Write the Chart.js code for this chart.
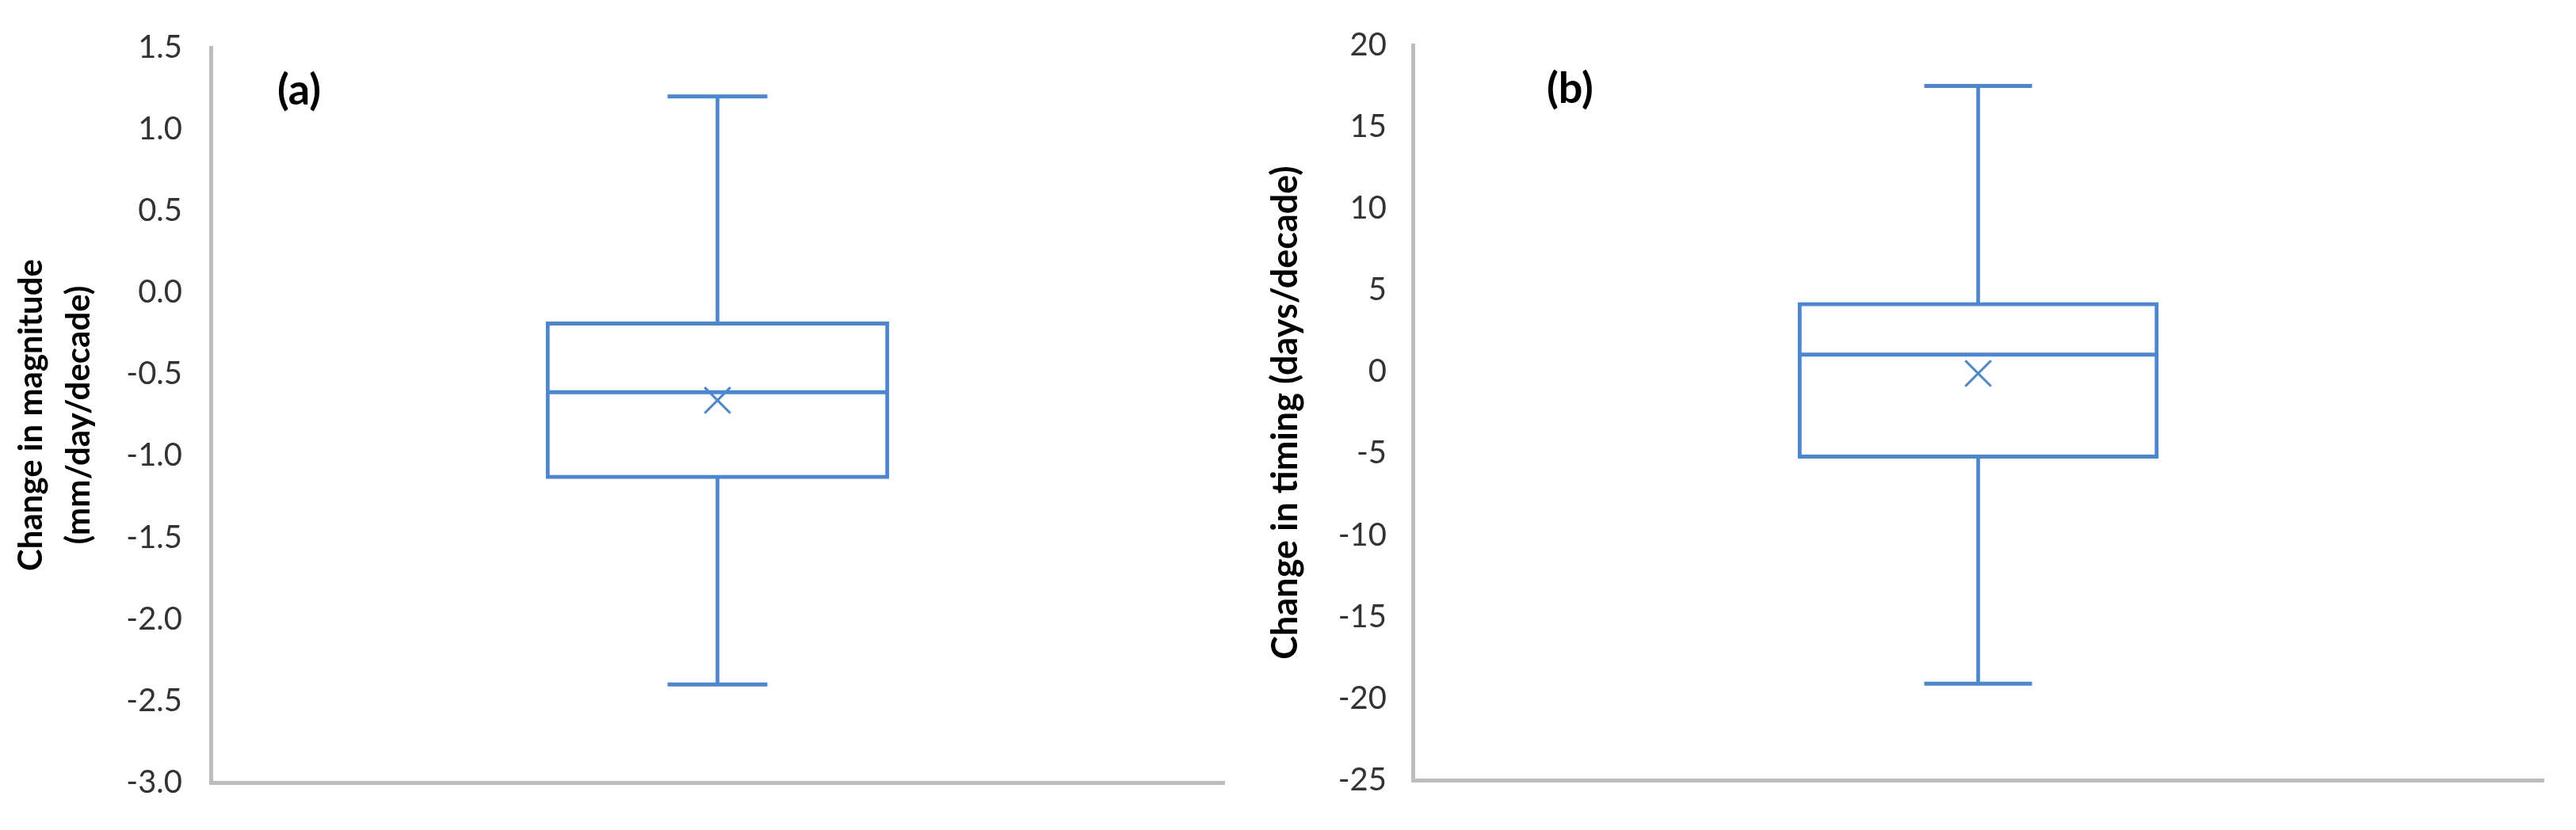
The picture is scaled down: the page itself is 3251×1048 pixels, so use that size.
<!DOCTYPE html>
<html>
<head>
<meta charset="utf-8">
<script src="https://cdn.jsdelivr.net/npm/chart.js@4.4.1/dist/chart.umd.min.js"></script>
<style>
  body { margin: 0; background: #fff; width: 3251px; height: 1048px; position: relative; overflow: hidden; }
  .panel { position: absolute; top: 0; height: 1048px; }
  .tag { position: absolute; font: bold 54px Lato, sans-serif; line-height: 54px; color: #000; }
</style>
</head>
<body>
<div class="panel" style="left:0;width:1600px"><canvas id="chartA"></canvas></div>
<div class="panel" style="left:1580px;width:1671px"><canvas id="chartB"></canvas></div>
<div class="tag" style="left:350px;top:85px">(a)</div>
<div class="tag" style="left:1952px;top:83px">(b)</div>
<script>
// une seule catégorie, sans étiquette sur l'axe x
const categories = [''];

// (a) changement de magnitude : min, Q1, médiane, Q3, max
const magnitudeBox = [-2.4, -1.14, -0.61, -0.18, 1.2];
const magnitudeMean = [-0.66];
const magnitudeAxis = [-3, 1.5, 0.5]; // min, max, pas

// (b) changement de timing : min, Q1, médiane, Q3, max
const timingBox = [-19.1, -5.3, 1.05, 4.25, 17.5];
const timingMean = [-0.1];
const timingAxis = [-25, 20, 5];

const blue = '#4a86d6';
const axisGray = '#bdbdbd';

Chart.defaults.font.family = 'Lato';

// jeu de points (extrémités, médiane, moyenne)
function pointSet(values, style, radius, width) {
    return {
        type: 'line',
        data: values,
        showLine: false,
        pointStyle: style,
        pointRadius: radius,
        pointBorderWidth: width,
        pointBorderColor: blue,
        pointBackgroundColor: blue,
        pointRotation: 0,
        order: 1
    };
}

// fonction pour dessiner une boîte à moustaches
function boxChart(id, box, mean, axis, cfg) {
    const ctx = document.getElementById(id).getContext('2d');
    return new Chart(ctx, {
        type: 'bar',
        data: {
            labels: categories,
            datasets: [
                {   // boîte Q1 - Q3
                    data: [[box[1], box[3]]],
                    backgroundColor: '#ffffff',
                    borderColor: blue,
                    borderWidth: 5,
                    borderSkipped: false,
                    barThickness: cfg.boxWidth,
                    grouped: false,
                    order: 2
                },
                {   // moustache min - max
                    data: [[box[0], box[4]]],
                    backgroundColor: blue,
                    borderWidth: 0,
                    barThickness: 4,
                    grouped: false,
                    order: 3
                },
                pointSet([box[0]], 'line', cfg.capRadius, 5),
                pointSet([box[4]], 'line', cfg.capRadius, 5),
                pointSet([box[2]], 'line', cfg.boxWidth / 2, 5),
                pointSet(mean, 'crossRot', 23, 3)
            ]
        },
        options: {
            responsive: true,
            maintainAspectRatio: false,
            animation: false,
            events: [],
            layout: { padding: cfg.padding, autoPadding: false },
            plugins: {
                legend: { display: false },
                tooltip: { enabled: false }
            },
            scales: {
                x: {
                    offset: true,
                    grid: { display: false, drawTicks: false },
                    ticks: { display: false },
                    border: { display: true, color: axisGray, width: 5 },
                    afterFit: s => { s.height = 0; }
                },
                y: {
                    min: axis[0],
                    max: axis[1],
                    ticks: {
                        stepSize: axis[2],
                        padding: cfg.tickPad,
                        color: '#333333',
                        font: { size: 40 },
                        callback: v => Number(v).toFixed(cfg.decimals)
                    },
                    grid: { display: false, drawTicks: false },
                    border: { display: true, color: axisGray, width: 5 },
                    title: {
                        display: true,
                        text: cfg.title,
                        color: '#000000',
                        font: { size: cfg.titleSize, weight: 'bold', lineHeight: cfg.titleLine },
                        padding: { top: cfg.titlePad, bottom: 0 }
                    },
                    afterFit: s => { s.width = cfg.axisWidth; }
                }
            }
        }
    });
}

boxChart('chartA', magnitudeBox, magnitudeMean, magnitudeAxis, {
    title: ['Change in magnitude', '(mm/day/decade)'],
    titleSize: 42,
    titleLine: 60 / 42,
    decimals: 1,
    boxWidth: 433,
    capRadius: 63,
    axisWidth: 266,
    tickPad: 36,
    titlePad: 9,
    padding: { top: 60, right: 55, bottom: 51, left: 0 }
});

boxChart('chartB', timingBox, timingMean, timingAxis, {
    title: 'Change in timing (days/decade)',
    titleSize: 45,
    titleLine: 1.5,
    decimals: 0,
    boxWidth: 455,
    capRadius: 68,
    axisWidth: 203,
    tickPad: 33,
    titlePad: 9,
    padding: { top: 33, right: 41, bottom: 63, left: 0 }
});
</script>
</body>
</html>
